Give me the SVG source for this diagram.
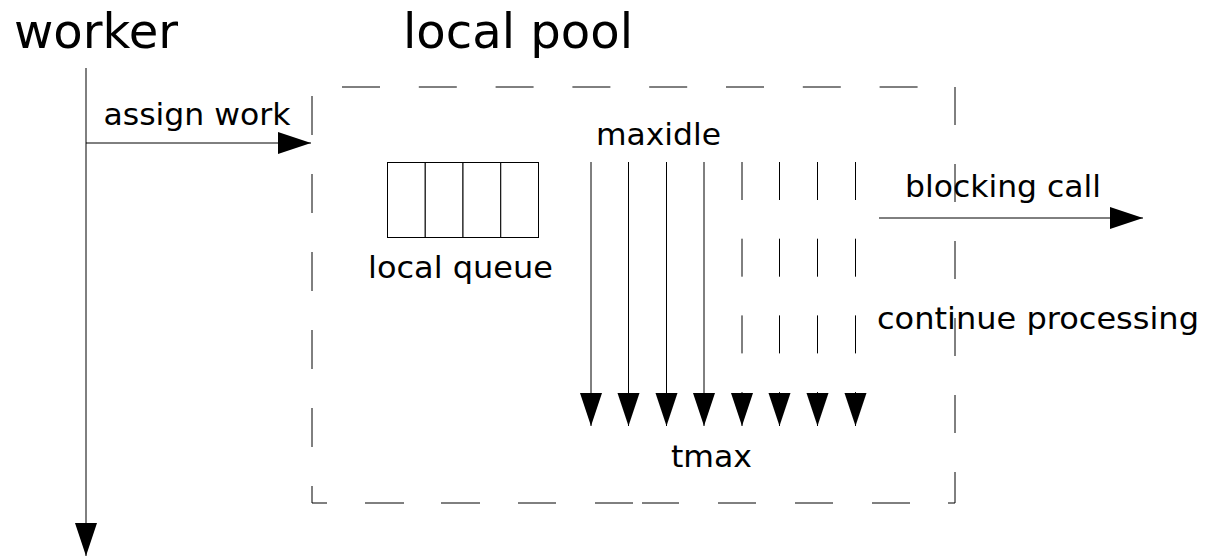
<svg xmlns="http://www.w3.org/2000/svg" width="1207" height="557" viewBox="0 0 1207 557">
  <defs>
    <style>
      text { font-family: "DejaVu Sans", "Liberation Sans", sans-serif; fill: #000; }
      .title { font-size: 48px; }
      .label { font-size: 31px; }
      .ln { stroke: #000; stroke-width: 1; fill: none; }
      .dash { stroke: #000; stroke-width: 1; fill: none; }
      .cell { stroke: #000; stroke-width: 1; fill: #fff; }
    </style>
    <marker id="head" markerUnits="userSpaceOnUse" markerWidth="33" markerHeight="22" refX="33" refY="11" orient="auto" overflow="visible">
      <path d="M0,0 L33,11 L0,22 Z" fill="#000"/>
    </marker>
  </defs>

  <rect width="1207" height="557" fill="#fff"/>

  <!-- worker lifeline owner -->
  <g id="worker">
    <text class="title" x="14" y="48" textLength="164" lengthAdjust="spacingAndGlyphs">worker</text>
  </g>

  <!-- local pool: dashed boundary -->
  <g id="local-pool">
    <text class="title" x="403" y="48" textLength="230" lengthAdjust="spacingAndGlyphs">local pool</text>
    <line class="dash" x1="342" y1="87" x2="918" y2="87" stroke-dasharray="38 38.8"/>
    <line class="dash" x1="955" y1="87" x2="955" y2="503" stroke-dasharray="38 39"/>
    <line class="dash" x1="312" y1="96" x2="312" y2="503" stroke-dasharray="39 39"/>
    <path class="dash" d="M312,503H327M365,503H404M441,503H480M518,503H556M595,503H633M642,503H679M718,503H756M795,503H833M872,503H910M948,503H955"/>
  </g>

  <!-- local queue: four slots -->
  <g id="local-queue">
    <rect class="cell" x="387.5" y="162.5" width="37.75" height="75"/>
    <rect class="cell" x="425.25" y="162.5" width="37.75" height="75"/>
    <rect class="cell" x="463" y="162.5" width="37.75" height="75"/>
    <rect class="cell" x="500.75" y="162.5" width="37.75" height="75"/>
    <text class="label" x="368" y="278" textLength="185" lengthAdjust="spacingAndGlyphs">local queue</text>
  </g>

  <!-- messages and thread timelines -->
  <g id="connectors">
    <line class="ln" x1="86" y1="68" x2="86" y2="556" marker-end="url(#head)"/>
    <line class="ln" x1="86" y1="143" x2="311" y2="143" marker-end="url(#head)"/>
    <line class="ln" x1="879" y1="218" x2="1143" y2="218" marker-end="url(#head)"/>

    <!-- running threads -->
    <line class="ln" x1="591" y1="162" x2="591" y2="426" marker-end="url(#head)"/>
    <line class="ln" x1="628.5" y1="162" x2="628.5" y2="426" marker-end="url(#head)"/>
    <line class="ln" x1="666.5" y1="162" x2="666.5" y2="426" marker-end="url(#head)"/>
    <line class="ln" x1="704" y1="162" x2="704" y2="426" marker-end="url(#head)"/>

    <!-- blocked threads -->
    <line class="ln" x1="742" y1="162" x2="742" y2="426" stroke-dasharray="38 38.7" marker-end="url(#head)"/>
    <line class="ln" x1="779.5" y1="162" x2="779.5" y2="426" stroke-dasharray="38 38.7" marker-end="url(#head)"/>
    <line class="ln" x1="817.5" y1="162" x2="817.5" y2="426" stroke-dasharray="38 38.7" marker-end="url(#head)"/>
    <line class="ln" x1="855.5" y1="162" x2="855.5" y2="426" stroke-dasharray="38 38.7" marker-end="url(#head)"/>
  </g>

  <g id="labels">
    <text class="label" x="103.5" y="125" textLength="187" lengthAdjust="spacingAndGlyphs">assign work</text>
    <text class="label" x="596" y="145" textLength="125" lengthAdjust="spacingAndGlyphs">maxidle</text>
    <text class="label" x="905" y="197" textLength="196" lengthAdjust="spacingAndGlyphs">blocking call</text>
    <text class="label" x="877" y="329" textLength="322" lengthAdjust="spacingAndGlyphs">continue processing</text>
    <text class="label" x="671" y="467" textLength="81" lengthAdjust="spacingAndGlyphs">tmax</text>
  </g>
</svg>
